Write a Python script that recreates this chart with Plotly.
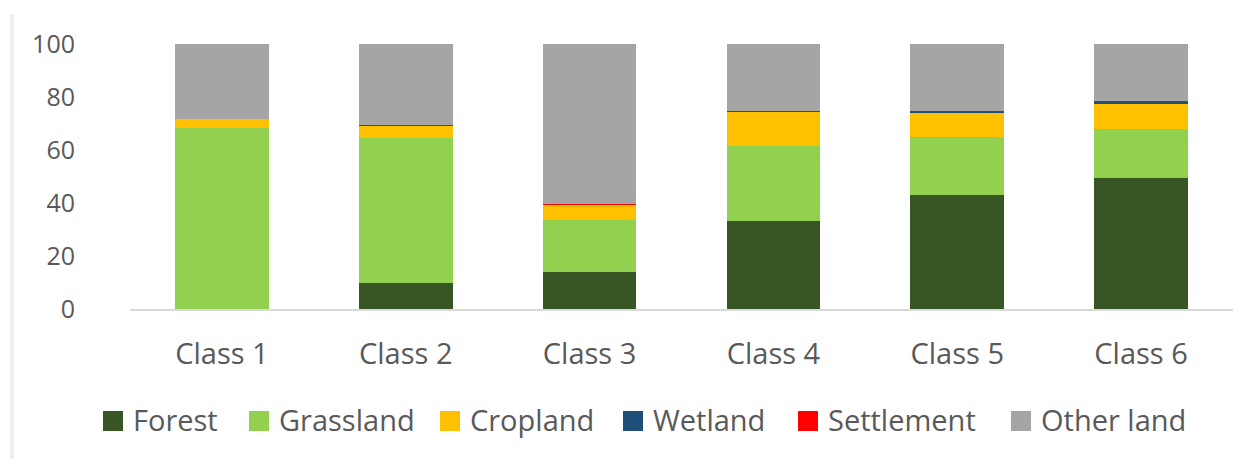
import plotly.graph_objects as go

# Land-cover share (%) per class
classes = ["Class 1", "Class 2", "Class 3", "Class 4", "Class 5", "Class 6"]
series_names = ["Forest", "Grassland", "Cropland", "Wetland", "Settlement", "Other land"]
forest = [0.0, 9.7, 14.0, 33.1, 42.9, 49.3]
grassland = [68.3, 54.8, 19.4, 28.4, 21.9, 18.5]
cropland = [3.4, 4.8, 6.1, 13.1, 9.4, 9.9]
wetland = [0.0, 0.1, 0.0, 0.1, 0.2, 0.6]
settlement = [0.1, 0.2, 0.1, 0.2, 0.2, 0.2]
other_land = [28.2, 30.4, 60.4, 25.1, 25.4, 21.5]
y_ticks = [0, 20, 40, 60, 80, 100]

series_values = [forest, grassland, cropland, wetland, settlement, other_land]
colors = ["#375623", "#92D050", "#FFC000", "#1F4E79", "#FF0000", "#A5A5A5"]

W, H = 1251, 459
ML, MR, MT, MB = 130, 18, 44, 150
PW, PH = W - ML - MR, H - MT - MB

def px_x(px):
    return (px - ML) / PW

def px_y(py):
    return (H - MB - py) / PH

fig = go.Figure()
for name, vals, col in zip(series_names, series_values, colors):
    fig.add_trace(go.Bar(
        x=classes, y=vals, name=name,
        marker=dict(color=col, line=dict(width=0)),
        showlegend=False,
    ))

text_font = dict(family="Open Sans", size=29, color="#595959")

# Legend drawn below the axis: colour square plus label
legend_left = [103, 249, 440, 623, 798, 1011]
legend_cy = 420
for name, col, lx in zip(series_names, colors, legend_left):
    fig.add_shape(type="rect", xref="paper", yref="paper",
                  x0=px_x(lx), x1=px_x(lx + 20),
                  y0=px_y(legend_cy + 11), y1=px_y(legend_cy - 9),
                  fillcolor=col, line=dict(width=0))
    fig.add_annotation(xref="paper", yref="paper", x=px_x(lx + 28), y=px_y(legend_cy - 1),
                       xanchor="left", yanchor="middle", text=name,
                       showarrow=False, font=text_font)

# Thin frame line at the left edge
fig.add_shape(type="rect", xref="paper", yref="paper",
              x0=px_x(10), x1=px_x(14), y0=px_y(459), y1=px_y(14),
              fillcolor="#EFEFEF", line=dict(width=0))

fig.update_layout(
    width=W, height=H,
    barmode="stack", bargap=0.49,
    margin=dict(l=ML, r=MR, t=MT, b=MB),
    plot_bgcolor="white", paper_bgcolor="white",
    font=dict(family="Open Sans", color="#595959"),
    xaxis=dict(showline=True, linecolor="#D9D9D9", linewidth=2,
               showgrid=False, ticks="", tickfont=text_font,
               ticklabelstandoff=18),
    yaxis=dict(range=[0, 100], tickvals=y_ticks, showgrid=False,
               zeroline=False, showline=False, ticks="",
               tickfont=dict(family="Open Sans", size=25, color="#595959"),
               ticklabelstandoff=54),
)

fig.write_html("out.html")
